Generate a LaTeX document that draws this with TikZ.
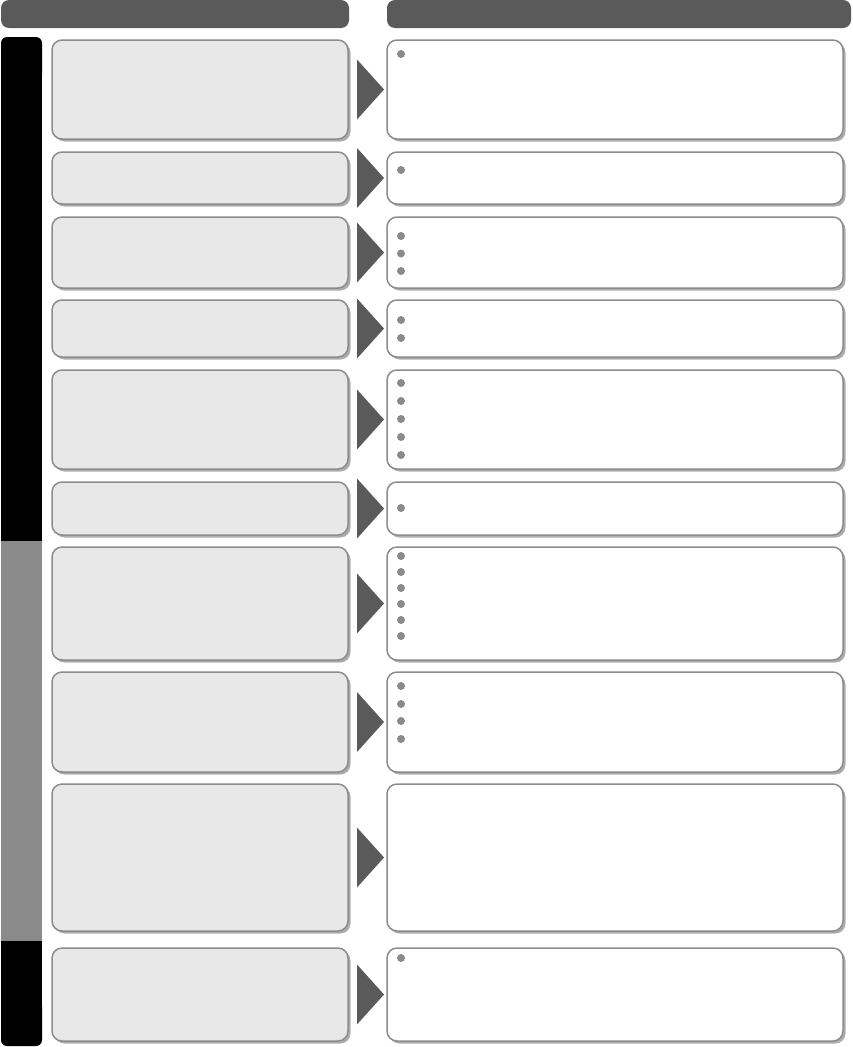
\documentclass[tikz,border=0pt]{standalone}
\usepackage{xcolor}
\usepackage{tikz}
\usetikzlibrary{calc}

\definecolor{hdrgray}{HTML}{5A5A5A}
\definecolor{boxline}{HTML}{8C8C8C}
\definecolor{boxfill}{HTML}{E8E8E8}
\definecolor{shadegray}{HTML}{ADADAD}
\definecolor{sidegray}{HTML}{8A8A8A}
\definecolor{dotgray}{HTML}{8A8A8A}

\tikzset{
  leftbox/.style={fill=boxfill,draw=boxline,rounded corners=10pt},
  rightbox/.style={fill=white,draw=boxline,rounded corners=10pt},
  boxshade/.style={fill=shadegray,rounded corners=10pt}
}

\begin{document}
\begin{tikzpicture}[x=1pt,y=-1pt,line width=1.5pt]

    \useasboundingbox (0,0) rectangle (852,1047);

    % header bars
    \fill[hdrgray,rounded corners=8pt] (1,0) rectangle (349,28);
    \fill[hdrgray,rounded corners=8pt] (387,0) rectangle (851,28);

    % side bar
    \fill[black,rounded corners=6pt] (1,37) rectangle (42,80);
    \fill[black] (1,60) rectangle (42,541);
    \fill[sidegray] (1,541) rectangle (42,941);
    \fill[black,rounded corners=6pt] (1,1000) rectangle (42,1046);
    \fill[black] (1,941) rectangle (42,1020);

    \foreach \t/\b in {40/139,152/204,217/288,300/357,370/469,482/535,547/660,672/772,784/931,948/1041}{
       %\draw (52,\t) -- (843,\t);
       \fill[boxshade] (54.5,\t+2.5) rectangle (350.5,\b+2.5);
       \filldraw[leftbox] (52,\t) rectangle (348,\b);
       \fill[boxshade] (389.5,\t+2.5) rectangle (845.5,\b+2.5);
       \filldraw[rightbox] (387,\t) rectangle (843,\b);
       \fill[hdrgray] (357,{(\t+\b)/2-30}) -- (384,{(\t+\b)/2}) -- (357,{(\t+\b)/2+30}) -- cycle;
    }

    % bullets
    \foreach \y in {54,170,236,253.5,271,320,338,383,401,419,437,455,508,
                    556,572,588,604,620,636,686,704,721,739,958}{
       \fill[dotgray] (401,\y) circle (4pt);
    }

\end{tikzpicture}
\end{document}
